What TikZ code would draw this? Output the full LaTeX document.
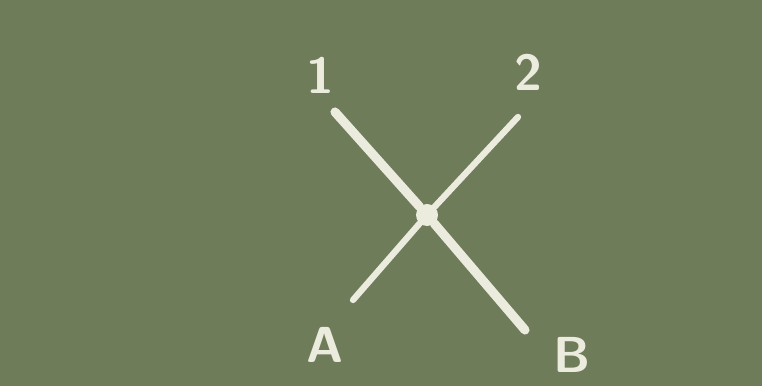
\documentclass[tikz,border=0pt]{standalone}
\usepackage{tikz}
\usetikzlibrary{calc,positioning}

\definecolor{board}{RGB}{110,124,90}
\definecolor{chalk}{RGB}{236,236,222}

\begin{document}
\begin{tikzpicture}[
    x=0.025cm, y=-0.025cm,
    thickline/.style={draw=chalk, line width=6.5pt, line cap=round},
    thinline/.style={draw=chalk, line width=4.5pt, line cap=round},
    endlabel/.style={font=\sffamily\bfseries\fontsize{36}{36}\selectfont, text=chalk, inner sep=0pt},
    crossdot/.style={circle, fill=chalk, minimum size=0.55cm, inner sep=0pt},
]

% Board
\fill[board] (0,0) rectangle (762,386);
\useasboundingbox (0,0) rectangle (762,386);

% Crossing point
\node[crossdot] (mid) at (427,215) {};

% Line ends
\coordinate (end1) at (335,112);
\coordinate (endB) at (525,330);
\coordinate (end2) at (518,117);
\coordinate (endA) at (353,300);

% Labels
\node[endlabel] (one) at (320,75) {1};
\node[endlabel] (two) at (528,72) {2};
\node[endlabel] (labA) at (325,345) {A};
\node[endlabel] (labB) at (572,355) {B};

% Lines
\draw[thickline] (end1) -- (mid);
\draw[thickline] (mid) -- (endB);
\draw[thinline] (end2) -- (mid);
\draw[thinline] (mid) -- (endA);

\end{tikzpicture}
\end{document}
